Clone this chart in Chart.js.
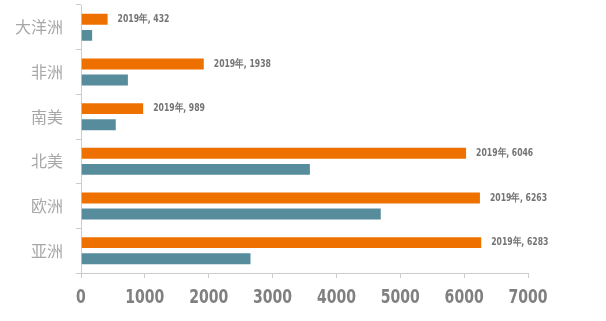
<!DOCTYPE html>
<html><head><meta charset="utf-8">
<script src="https://cdn.jsdelivr.net/npm/chart.js@4/dist/chart.umd.min.js"></script>
<style>html,body{margin:0;padding:0;background:#fff;}#wrap{width:606px;height:321px;}</style>
</head><body><div id="wrap"><canvas id="c" width="606" height="321"></canvas></div>
<script>
const categories = ["大洋洲", "非洲", "南美", "北美", "欧洲", "亚洲"];
const values2019 = [432, 1938, 989, 6046, 6263, 6283];
const valuesOther = [190, 750, 560, 3600, 4710, 2670];
const xTicks = [0, 1000, 2000, 3000, 4000, 5000, 6000, 7000];
const labelPrefix = "2019年, ";
const condensed = '"DejaVu Sans Condensed", "Liberation Sans Narrow", sans-serif';

const customText = {
  id: 'customText',
  afterDatasetsDraw(chart) {
    const ctx = chart.ctx;
    const meta = chart.getDatasetMeta(0);
    ctx.save();
    ctx.font = 'bold 11px ' + condensed;
    ctx.fillStyle = '#747474';
    ctx.textAlign = 'left';
    ctx.textBaseline = 'middle';
    meta.data.forEach((bar, i) => {
      ctx.save();
      ctx.translate(bar.x + 9, bar.y);
      ctx.scale(0.78, 1);
      ctx.fillText(labelPrefix + values2019[i], 0, 0);
      ctx.restore();
    });
    ctx.restore();
  },
  afterDraw(chart) {
    const ctx = chart.ctx;
    const xs = chart.scales.x;
    ctx.save();
    ctx.font = 'bold 20px ' + condensed;
    ctx.fillStyle = '#808080';
    ctx.textAlign = 'center';
    ctx.textBaseline = 'middle';
    xTicks.forEach(v => {
      ctx.save();
      ctx.translate(xs.getPixelForValue(v), xs.bottom - 23);
      ctx.scale(0.78, 1);
      ctx.fillText(String(v), 0, 0);
      ctx.restore();
    });
    ctx.restore();
  }
};

new Chart(document.getElementById('c'), {
  type: 'bar',
  data: {
    labels: categories,
    datasets: [
      { data: values2019, backgroundColor: '#EE7100', borderColor: 'rgba(255,255,255,0.5)', borderWidth: 1,
        categoryPercentage: 0.72, barPercentage: 0.8 },
      { data: valuesOther, backgroundColor: '#568C9C', borderColor: 'rgba(255,255,255,0.5)', borderWidth: 1,
        categoryPercentage: 0.72, barPercentage: 0.8 }
    ]
  },
  options: {
    indexAxis: 'y',
    responsive: false,
    animation: false,
    layout: { padding: { left: 0, right: 78, top: 5, bottom: 0 } },
    plugins: { legend: { display: false }, tooltip: { enabled: false } },
    scales: {
      x: {
        min: 0, max: 7000,
        afterBuildTicks(s) { s.ticks = xTicks.map(v => ({ value: v })); },
        afterFit(s) { s.height = 48; s.paddingLeft = 0; s.paddingRight = 0; },
        border: { display: true, color: '#cccccc', width: 1 },
        grid: { drawOnChartArea: false, drawTicks: true, tickLength: 5, color: '#cccccc' },
        ticks: { display: false }
      },
      y: {
        afterFit(s) { s.width = 81; s.paddingTop = 0; s.paddingBottom = 0; },
        border: { display: true, color: '#cccccc', width: 1 },
        grid: { offset: true, drawOnChartArea: false, drawTicks: true, tickLength: 5, color: '#cccccc' },
        ticks: { color: '#a8a8a8', padding: 13,
          font: { family: '"Noto Sans CJK SC", sans-serif', size: 16, weight: 'normal' } }
      }
    }
  },
  plugins: [customText]
});
</script></body></html>
